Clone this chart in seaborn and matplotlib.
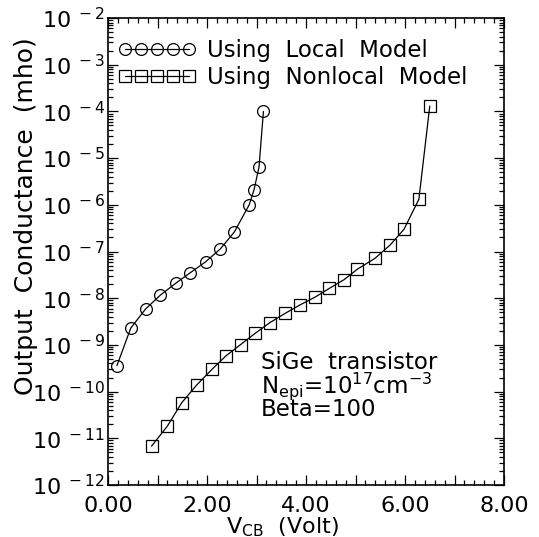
import numpy as np
import matplotlib
matplotlib.use('Agg')
import matplotlib.pyplot as plt
from matplotlib.ticker import LogLocator, MultipleLocator, FuncFormatter, NullFormatter
import seaborn as sns

# local model (circles)
local_vcb = [0.18, 0.46, 0.76, 1.06, 1.37, 1.66, 1.97, 2.27, 2.55, 2.85, 2.95, 3.05, 3.14]
local_gout = [3.6e-10, 2.3e-9, 5.9e-9, 1.17e-8, 2.1e-8, 3.5e-8, 6.0e-8, 1.14e-7,
              2.6e-7, 9.9e-7, 2.1e-6, 6.4e-6, 1.0e-4]

# nonlocal model (squares)
nonlocal_vcb = [0.88, 1.20, 1.49, 1.79, 2.10, 2.38, 2.68, 2.97, 3.27, 3.58, 3.88, 4.18,
                4.47, 4.77, 5.04, 5.39, 5.70, 5.98, 6.28, 6.50]
nonlocal_gout = [6.8e-12, 1.83e-11, 5.8e-11, 1.38e-10, 3.0e-10, 5.8e-10, 1.02e-9, 1.76e-9,
                 3.0e-9, 4.75e-9, 7.2e-9, 1.05e-8, 1.62e-8, 2.5e-8, 4.2e-8, 7.1e-8,
                 1.38e-7, 3.0e-7, 1.31e-6, 1.3e-4]

sns.set_style('ticks')
plt.rcParams['font.family'] = ['DejaVu Sans']
plt.rcParams['mathtext.fontset'] = 'dejavusans'
plt.rcParams['text.color'] = 'black'
plt.rcParams['axes.labelcolor'] = 'black'

fig = plt.figure(figsize=(5.39, 5.37), dpi=100)
ax = fig.add_axes([0.2004, 0.0968, 0.7347, 0.8697])

sns.lineplot(x=local_vcb, y=local_gout, ax=ax, color='black', lw=0.9, marker='o',
             ms=8.5, mfc='none', mec='black', mew=0.9, label='Using  Local  Model')
sns.lineplot(x=nonlocal_vcb, y=nonlocal_gout, ax=ax, color='black', lw=0.9, marker='s',
             ms=8, mfc='none', mec='black', mew=0.9, label='Using  Nonlocal  Model')

ax.set_yscale('log')
ax.set_xlim(0, 8)
ax.set_ylim(1e-12, 1e-2)

ax.yaxis.set_major_locator(LogLocator(base=10, numticks=20))
ax.yaxis.set_minor_locator(LogLocator(base=10, subs=np.arange(2, 10), numticks=20))
ax.yaxis.set_minor_formatter(NullFormatter())
ax.yaxis.set_major_formatter(FuncFormatter(lambda v, p: r'$10^{\ %d}$' % round(np.log10(v))))

ax.xaxis.set_major_locator(MultipleLocator(1))
ax.xaxis.set_minor_locator(MultipleLocator(0.2))
ax.xaxis.set_major_formatter(FuncFormatter(lambda v, p: f'{v:.2f}' if round(v) % 2 == 0 else ''))

ax.tick_params(which='both', direction='in', top=True, right=True, colors='black', width=0.9)
ax.tick_params(which='major', length=7)
ax.tick_params(which='minor', length=3.5)
ax.tick_params(axis='x', labelsize=16, pad=8)
ax.tick_params(axis='y', labelsize=16, pad=2)
for s in ax.spines.values():
    s.set_linewidth(1.2)
    s.set_color('black')

ax.set_ylabel('Output  Conductance  (mho)', fontsize=18)
ax.yaxis.set_label_coords(-0.176, 0.575)
ax.set_xlabel(r'V$_{\rm CB}$  (Volt)', fontsize=16)
ax.xaxis.set_label_coords(0.44, -0.066)

ax.legend(loc='upper left', bbox_to_anchor=(-0.01, 0.985), frameon=False, numpoints=5,
          handlelength=3.4, fontsize=16.5, borderaxespad=0.3, handletextpad=0.5,
          labelspacing=0.2, borderpad=0.3)

ax.text(0.386, 0.263, 'SiGe  transistor', transform=ax.transAxes, fontsize=16.5, va='center')
ax.text(0.386, 0.212, r'N$_{\rm epi}$=10$^{17}$cm$^{-3}$', transform=ax.transAxes,
        fontsize=16.5, va='center')
ax.text(0.386, 0.161, 'Beta=100', transform=ax.transAxes, fontsize=16.5, va='center')

fig.savefig('out.png', dpi=100)
